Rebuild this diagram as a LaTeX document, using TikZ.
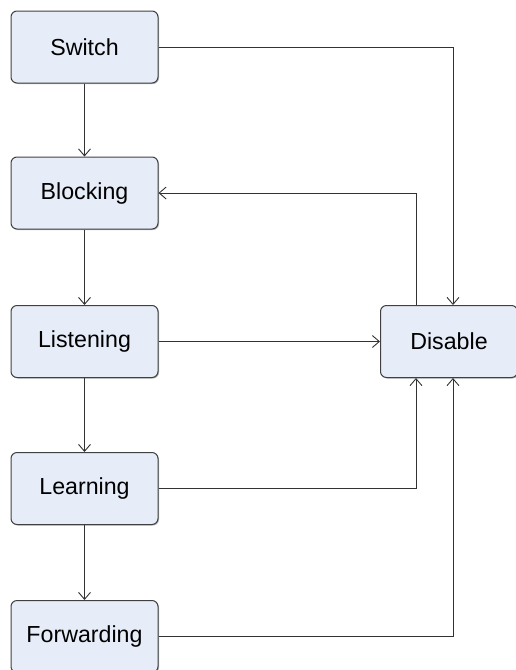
\documentclass[tikz,border=0pt]{standalone}
\usepackage{fontspec}
\setmainfont{Liberation Sans}
\usetikzlibrary{arrows.meta,shadows}
\definecolor{boxfill}{RGB}{230,236,248}
\definecolor{boxline}{RGB}{64,64,64}
\definecolor{wire}{RGB}{50,50,50}
\tikzset{
    state/.style={rectangle, rounded corners=6pt, draw=boxline, line width=1pt, fill=boxfill,
        minimum width=147pt, minimum height=72pt, inner sep=0pt,
        font=\fontsize{23.2}{27}\selectfont,
        drop shadow={shadow xshift=1pt, shadow yshift=-1pt, fill=gray!70, opacity=0.8}},
    edge/.style={draw=wire, line width=0.9pt, -{Straight Barb[length=7pt, width=12pt, line width=0.9pt]}}
}
\begin{document}
\begin{tikzpicture}[x=1pt, y=-1pt]
    \useasboundingbox (0,0) rectangle (515,670);
    % Nodes
    \node[state] (sw) at (84.5,47) {Switch};
    \node[state] (blk) at (84.5,193) {Blocking};
    \node[state] (lis) at (84.5,341.5) {Listening};
    \node[state] (lrn) at (84.5,488.5) {Learning};
    \node[state] (fwd) at (84.5,636.5) {Forwarding};
    \node[state, minimum width=137pt] (dis) at (449,341.5) {Disable};

    % edges
    \draw[edge] (sw) -- (blk);
    \draw[edge] (blk) -- (lis);
    \draw[edge] (lis) -- (lrn);
    \draw[edge] (lrn) -- (fwd);
    \draw[edge] (sw) -| ([xshift=4pt]dis.north);
    \draw[edge] ([xshift=-33pt]dis.north) |- (blk);
    \draw[edge] (lis) -- (dis);
    \draw[edge] (lrn) -| ([xshift=-33pt]dis.south);
    \draw[edge] (fwd) -| ([xshift=4pt]dis.south);
\end{tikzpicture}
\end{document}
